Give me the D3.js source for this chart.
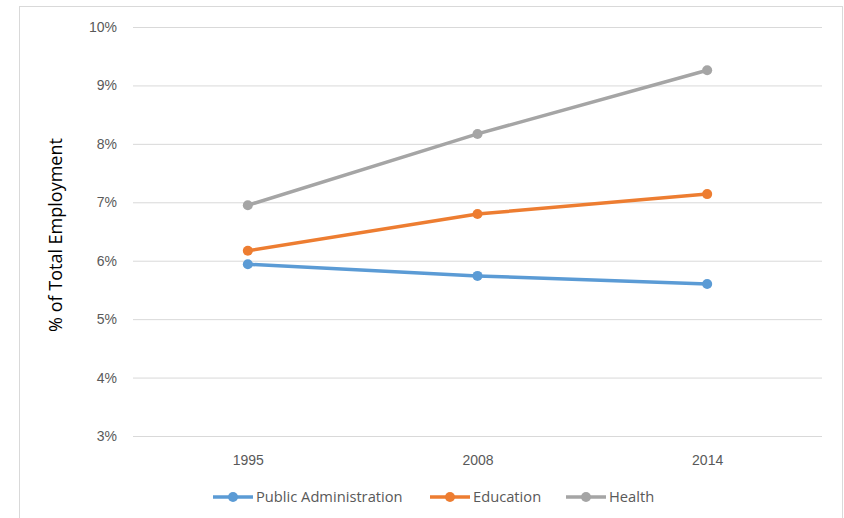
<!DOCTYPE html>
<html><head><meta charset="utf-8">
<script src="https://cdn.jsdelivr.net/npm/d3@7"></script>
<style>body{margin:0;background:#fff;}svg{display:block;font-family:"Open Sans","Liberation Sans",sans-serif;}</style>
</head><body><svg id="c" width="844" height="518"></svg>
<script>
const years = ["1995","2008","2014"];
const seriesNames = ["Public Administration","Education","Health"];
const publicAdmin = [5.94,5.74,5.60];
const education = [6.17,6.80,7.14];
const health = [6.95,8.17,9.26];
const yTicks = [3,4,5,6,7,8,9,10];
const colors = ["#5B9BD5","#ED7D31","#A5A5A5"];
const allSeries = [publicAdmin, education, health];

const svg = d3.select("#c");
svg.append("rect").attr("x",19.5).attr("y",6.5).attr("width",823).attr("height",520).attr("fill","#fff").attr("stroke","#D9D9D9");

const x = d3.scalePoint().domain(years).range([133,822]).padding(0.5);
const y = d3.scaleLinear().domain([3,10]).range([436,27]);

const yAxis = svg.append("g").attr("transform","translate(133,0)")
  .call(d3.axisLeft(y).tickValues(yTicks).tickSize(-(822-133)).tickFormat(d=>d+"%"));
yAxis.select(".domain").remove();
yAxis.selectAll(".tick line").attr("stroke","#D9D9D9").attr("stroke-width",1);
yAxis.selectAll(".tick text").attr("fill","#595959").attr("font-size","14px").attr("x",-16);

const xAxis = svg.append("g").attr("transform","translate(0,436)")
  .call(d3.axisBottom(x).tickSize(0));
xAxis.select(".domain").remove();
xAxis.selectAll(".tick text").attr("fill","#595959").attr("font-size","14px").attr("dy","0").attr("y",29);

svg.append("text").attr("transform","translate(62,235) rotate(-90)").attr("text-anchor","middle")
  .attr("font-size","18px").attr("fill","#000").text("% of Total Employment");

const line = d3.line().x((d,i)=>x(years[i])).y(d=>y(d));
allSeries.forEach((s,k)=>{
  svg.append("path").datum(s).attr("d",line).attr("fill","none").attr("stroke",colors[k]).attr("stroke-width",3.5).attr("stroke-linecap","round");
  svg.selectAll(null).data(s).enter().append("circle").attr("cx",(d,i)=>x(years[i])).attr("cy",d=>y(d)).attr("r",5).attr("fill",colors[k]);
});

const legX = [213,430,566];
const leg = svg.append("g");
seriesNames.forEach((n,k)=>{
  const g = leg.append("g").attr("transform",`translate(${legX[k]},497)`);
  g.append("line").attr("x1",0).attr("x2",40).attr("stroke",colors[k]).attr("stroke-width",3.5);
  g.append("circle").attr("cx",20).attr("r",5).attr("fill",colors[k]);
  g.append("text").attr("x",43).attr("dy","0.35em").attr("font-size","14.7px").attr("fill","#595959").text(n);
});
</script></body></html>
